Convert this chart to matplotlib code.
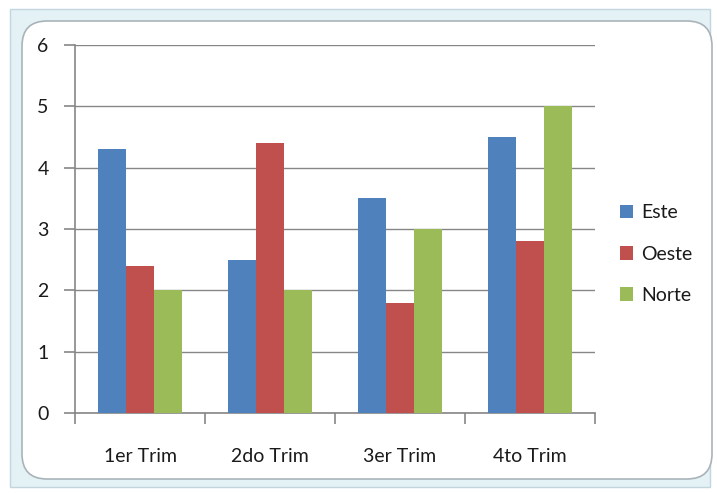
import matplotlib
matplotlib.use("Agg")
import matplotlib.pyplot as plt
import numpy as np
from matplotlib.patches import FancyBboxPatch, Rectangle

categories = ["1er Trim", "2do Trim", "3er Trim", "4to Trim"]
series_names = ["Este", "Oeste", "Norte"]
este = [4.3, 2.5, 3.5, 4.5]
oeste = [2.4, 4.4, 1.8, 2.8]
norte = [2.0, 2.0, 3.0, 5.0]
colors = ["#4F81BD", "#C0504D", "#9BBB59"]

plt.rcParams['font.family'] = ['Lato', 'DejaVu Sans']
FS = 14
TXT = "#1A1A1A"

W, H = 717, 493
fig = plt.figure(figsize=(W/100, H/100), dpi=100)
fig.patch.set_facecolor("white")

# outer frame
fig.patches.append(Rectangle((10/W, 6/H), 700/W, 478/H, transform=fig.transFigure,
                             facecolor="#E4F1F5", edgecolor="#C2D6DE", lw=1, zorder=-2))
fig.patches.append(FancyBboxPatch((22/W, 14/H), 690/W, 458/H, transform=fig.transFigure,
                                  boxstyle="round,pad=0,rounding_size=0.035",
                                  facecolor="white", edgecolor="#A9B4BA", lw=1.2, zorder=-1,
                                  mutation_aspect=W/H))

ax = fig.add_axes([75/W, 1 - 413/H, (595-75)/W, (413-45)/H])
ax.set_zorder(2)
ax.set_facecolor("none")
x = np.arange(len(categories))
bw = 0.217
for i, (vals, c, name) in enumerate(zip([este, oeste, norte], colors, series_names)):
    ax.bar(x + (i - 1) * bw, vals, width=bw, color=c, label=name, zorder=3)

ax.set_xlim(-0.5, 3.5)
ax.set_ylim(0, 6)
ax.set_yticks(range(0, 7))
ax.yaxis.grid(True, color="#868686", lw=1)
ax.set_axisbelow(True)
for s in ["top", "right"]:
    ax.spines[s].set_visible(False)
for s in ["left", "bottom"]:
    ax.spines[s].set_color("#868686")
    ax.spines[s].set_linewidth(1.2)
ax.set_xticks([-0.5, 0.5, 1.5, 2.5, 3.5])
ax.set_xticklabels([])
ax.set_xticks(x, minor=True)
ax.set_xticklabels(categories, minor=True)
ax.tick_params(axis="x", which="major", length=8, color="#868686", width=1.2, direction="out")
ax.tick_params(axis="x", which="minor", length=0, pad=25, labelsize=FS, labelcolor=TXT)
ax.tick_params(axis="y", length=8, color="#868686", width=1.2, labelsize=FS, pad=11,
               labelcolor=TXT)

handles, labels = ax.get_legend_handles_labels()
leg = fig.legend(handles, labels, loc="center left", bbox_to_anchor=(602/W, 1 - 254/H),
                 frameon=False, fontsize=FS, labelspacing=1.25, handlelength=0.7,
                 handleheight=0.7, handletextpad=0.4, labelcolor=TXT)
leg.set_zorder(3)

fig.savefig("out.png", dpi=100)
